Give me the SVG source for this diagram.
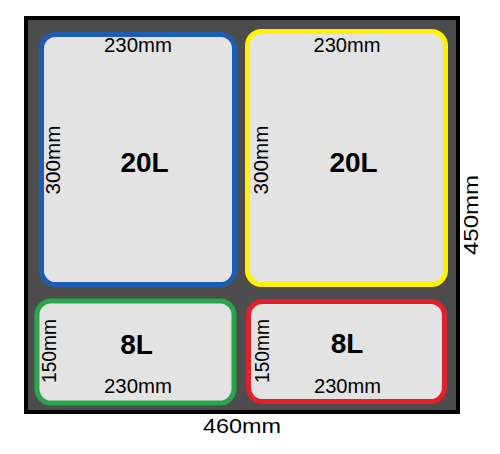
<svg xmlns="http://www.w3.org/2000/svg" width="500" height="454" viewBox="0 0 500 454">
<style>
.bin{fill:#e3e3e3;stroke-width:5}
.dim{font-family:"Liberation Sans",Arial,sans-serif;font-size:20px;fill:#000;text-anchor:middle}
.vol{font-family:"Liberation Sans",Arial,sans-serif;font-size:28px;font-weight:bold;fill:#000;text-anchor:middle}
</style>
<rect width="500" height="454" fill="#fff"/>
<g id="frame">
<rect x="26" y="18" width="432" height="394" fill="#4d4d4d" stroke="#000" stroke-width="4"/>
</g>
<g id="bin-blue">
<rect class="bin" x="41.5" y="34.5" width="193" height="250" rx="14" stroke="#1f5db3"/>
<text class="dim" x="138" y="52" textLength="68" lengthAdjust="spacingAndGlyphs">230mm</text>
<text class="vol" x="144.5" y="172">20L</text>
<text class="dim" transform="translate(60,160) rotate(-90)" textLength="69" lengthAdjust="spacingAndGlyphs">300mm</text>
</g>
<g id="bin-yellow">
<rect class="bin" x="247.5" y="31.5" width="198" height="253" rx="14" stroke="#fff200"/>
<text class="dim" x="347" y="52" textLength="67" lengthAdjust="spacingAndGlyphs">230mm</text>
<text class="vol" x="353.5" y="172">20L</text>
<text class="dim" transform="translate(268,160) rotate(-90)" textLength="69" lengthAdjust="spacingAndGlyphs">300mm</text>
</g>
<g id="bin-green">
<rect class="bin" x="37" y="301" width="197" height="102" rx="14" stroke="#2aa64a" stroke-width="5.5"/>
<text class="vol" x="136.5" y="354">8L</text>
<text class="dim" x="138" y="393" textLength="68" lengthAdjust="spacingAndGlyphs">230mm</text>
<text class="dim" transform="translate(56,351) rotate(-90)" textLength="64" lengthAdjust="spacingAndGlyphs">150mm</text>
</g>
<g id="bin-red">
<rect class="bin" x="248.5" y="301.5" width="196" height="100" rx="14" stroke="#e3202a"/>
<text class="vol" x="347" y="353">8L</text>
<text class="dim" x="347.5" y="393" textLength="67" lengthAdjust="spacingAndGlyphs">230mm</text>
<text class="dim" transform="translate(269,351) rotate(-90)" textLength="64" lengthAdjust="spacingAndGlyphs">150mm</text>
</g>
<g id="labels">
<text class="dim" x="242" y="433" textLength="78" lengthAdjust="spacingAndGlyphs">460mm</text>
<text class="dim" transform="translate(478,215) rotate(-90)" textLength="80" lengthAdjust="spacingAndGlyphs">450mm</text>
</g>
<g id="connectors"></g>
</svg>
